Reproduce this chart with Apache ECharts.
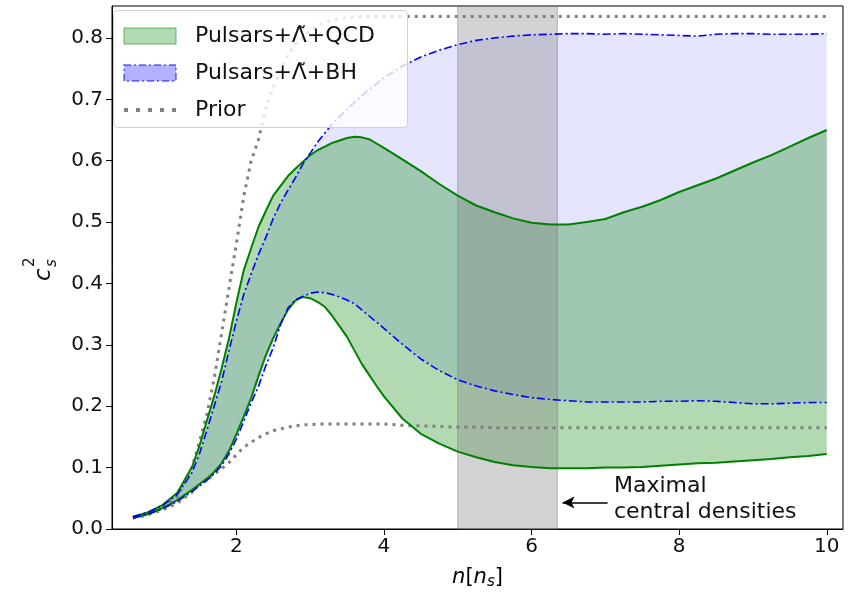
<!DOCTYPE html>
<html><head><meta charset="utf-8">
<script src="https://cdn.jsdelivr.net/npm/echarts@6/dist/echarts.min.js"></script>
<style>html,body{margin:0;padding:0;background:#fff}#c{width:849px;height:601px}</style>
</head><body><div id="c"></div>
<script>
// density grid n [n_s]
const nGrid = [0.6,0.8,1.0,1.2,1.4,1.5,1.6,1.7,1.8,1.9,2.0,2.1,2.2,2.3,2.4,2.5,2.6,2.7,2.8,2.9,3.0,3.1,3.2,3.3,3.4,3.5,3.6,3.7,3.8,3.9,4.0,4.25,4.5,4.75,5.0,5.25,5.5,5.75,6.0,6.25,6.5,6.75,7.0,7.25,7.5,7.75,8.0,8.25,8.5,8.75,9.0,9.25,9.5,9.75,10.0];
// Pulsars+Λ̃+QCD band
const qcdUpper = [0.020,0.027,0.039,0.059,0.101,0.135,0.176,0.216,0.261,0.310,0.368,0.421,0.457,0.492,0.518,0.543,0.559,0.575,0.587,0.598,0.609,0.617,0.623,0.629,0.633,0.637,0.639,0.638,0.635,0.628,0.621,0.602,0.583,0.562,0.543,0.527,0.516,0.506,0.499,0.496,0.496,0.500,0.505,0.516,0.525,0.536,0.549,0.560,0.571,0.584,0.597,0.609,0.623,0.637,0.650];
const qcdLower = [0.018,0.024,0.034,0.047,0.064,0.073,0.082,0.093,0.107,0.127,0.154,0.183,0.213,0.249,0.283,0.311,0.335,0.357,0.372,0.378,0.376,0.370,0.362,0.347,0.330,0.313,0.291,0.269,0.251,0.233,0.216,0.180,0.155,0.139,0.126,0.117,0.109,0.104,0.101,0.099,0.099,0.099,0.100,0.100,0.101,0.103,0.105,0.107,0.108,0.110,0.112,0.114,0.117,0.119,0.122];
// Pulsars+Λ̃+BH band
const bhUpper = [0.020,0.027,0.038,0.056,0.092,0.122,0.160,0.200,0.240,0.290,0.338,0.382,0.415,0.447,0.475,0.506,0.531,0.552,0.572,0.594,0.612,0.630,0.645,0.660,0.672,0.684,0.695,0.706,0.716,0.725,0.735,0.754,0.769,0.780,0.789,0.796,0.800,0.803,0.805,0.806,0.807,0.807,0.806,0.807,0.806,0.805,0.804,0.803,0.806,0.807,0.807,0.806,0.806,0.806,0.807];
const bhLower = [0.018,0.024,0.033,0.045,0.061,0.070,0.079,0.090,0.103,0.122,0.146,0.175,0.205,0.232,0.266,0.295,0.333,0.360,0.373,0.379,0.384,0.386,0.385,0.382,0.378,0.373,0.367,0.357,0.347,0.337,0.327,0.301,0.277,0.258,0.243,0.233,0.225,0.219,0.214,0.211,0.209,0.207,0.207,0.207,0.207,0.208,0.208,0.209,0.208,0.206,0.204,0.204,0.205,0.206,0.206];
// Prior envelope
const priorUpper = [0.018,0.024,0.035,0.053,0.100,0.142,0.186,0.245,0.318,0.392,0.464,0.541,0.599,0.634,0.685,0.720,0.748,0.772,0.790,0.800,0.812,0.820,0.825,0.829,0.831,0.833,0.834,0.835,0.835,0.835,0.835,0.835,0.835,0.835,0.835,0.835,0.835,0.835,0.835,0.835,0.835,0.835,0.835,0.835,0.835,0.835,0.835,0.835,0.835,0.835,0.835,0.835,0.835,0.835,0.835];
const priorLower = [0.018,0.023,0.031,0.042,0.060,0.073,0.080,0.089,0.098,0.108,0.121,0.133,0.141,0.149,0.155,0.160,0.163,0.166,0.168,0.170,0.170,0.171,0.171,0.171,0.171,0.171,0.171,0.171,0.171,0.171,0.171,0.169,0.168,0.167,0.166,0.166,0.165,0.165,0.165,0.165,0.165,0.165,0.165,0.165,0.165,0.165,0.165,0.165,0.165,0.165,0.165,0.165,0.165,0.165,0.165];
// maximal central densities span
const densitySpan = [5.0, 6.35];
const xTicks = [2,4,6,8,10];
const yTicks = [0.0,0.1,0.2,0.3,0.4,0.5,0.6,0.7,0.8];
const legendNames = ['Pulsars+Λ\u0303+QCD','Pulsars+Λ\u0303+BH','Prior'];

const FONT = 'DejaVu Sans';
const pairs = ys => nGrid.map((x,i)=>[x, ys[i]]);
const X_MIN = 0.316, X_MAX = 10.22, Y_MIN = 0, Y_MAX = 0.852;

function bandRender(upper, lower, fill){
  return function(params, api){
    const pts = [];
    for (let i=0;i<nGrid.length;i++) pts.push(api.coord([nGrid[i], upper[i]]));
    for (let i=nGrid.length-1;i>=0;i--) pts.push(api.coord([nGrid[i], lower[i]]));
    return {type:'polygon', shape:{points:pts}, style:{fill:fill, stroke:null}};
  };
}

const chart = echarts.init(document.getElementById('c'), null, {renderer:'canvas'});
const lineBase = {type:'line', showSymbol:false, symbol:'none', silent:true, animation:false, smooth:false};

chart.setOption({
  animation:false,
  backgroundColor:'#fff',
  textStyle:{fontFamily:FONT},
  grid:{left:112, right:6, top:6, bottom:72, show:true, borderColor:'#000', borderWidth:1, backgroundColor:'transparent', containLabel:false, outerBoundsMode:'none'},
  xAxis:{type:'value', min:X_MIN, max:X_MAX,
    name:'{i|n}[{i|n}{sub|s}]', nameLocation:'middle', nameGap:36,
    nameTextStyle:{fontFamily:FONT, fontSize:21, color:'#000', rich:{i:{fontStyle:'italic', fontSize:21, fontFamily:FONT}, sub:{fontStyle:'italic', fontSize:15, fontFamily:FONT, padding:[10,0,0,0]}}},
    axisLine:{show:true, onZero:false, lineStyle:{color:'#000', width:1}},
    axisTick:{show:true, customValues:xTicks, length:6, lineStyle:{color:'#000', width:1}},
    axisLabel:{customValues:xTicks, fontSize:20, color:'#111', margin:8, fontFamily:FONT},
    splitLine:{show:false}},
  yAxis:{type:'value', min:Y_MIN, max:Y_MAX,
    axisLine:{show:true, onZero:false, lineStyle:{color:'#000', width:1}},
    axisTick:{show:true, customValues:yTicks, length:6, lineStyle:{color:'#000', width:1}},
    axisLabel:{customValues:yTicks, fontSize:20, color:'#111', margin:9, fontFamily:FONT, formatter:v=>v.toFixed(1)},
    splitLine:{show:false}},
  legend:{
    z:20, orient:'vertical', left:123, top:25, itemWidth:52, itemHeight:16, itemGap:15,
    selectedMode:false, backgroundColor:'transparent', padding:0, symbolKeepAspect:true,
    textStyle:{fontFamily:FONT, fontSize:22, color:'#111', lineHeight:16, padding:[0,0,0,14]},
    data:[
      {name:legendNames[0], icon:'rect', itemStyle:{color:'rgba(0,128,0,0.3)', borderColor:'rgba(0,128,0,0.35)', borderWidth:1.5}},
      {name:legendNames[1], icon:'rect', itemStyle:{color:'rgba(0,0,255,0.3)', borderColor:'rgba(0,0,255,0.45)', borderWidth:2, borderType:[7,3,2,3]}},
      {name:legendNames[2], icon:'path://M0,0h4v4h-4zM12,0h4v4h-4zM24,0h4v4h-4zM36,0h4v4h-4zM48,0h4v4h-4z',
        itemStyle:{color:'#808080', borderWidth:0}, lineStyle:{opacity:0}}
    ]
  },
  graphic:[
    {type:'rect', z:10, shape:{x:113.5, y:10.5, width:294, height:117, r:4}, style:{fill:'rgba(255,255,255,0.8)', stroke:'#d0d0d0', lineWidth:1}, silent:true},
    {type:'group', x:51, y:281, rotation:Math.PI/2, silent:true, children:[
      {type:'text', x:0, y:-7, style:{text:'c', font:'italic 23px "DejaVu Sans"', fill:'#111', align:'left', verticalAlign:'middle'}},
      {type:'text', x:14, y:-21, style:{text:'2', font:'15px "DejaVu Sans"', fill:'#111', align:'left', verticalAlign:'middle'}},
      {type:'text', x:14, y:1, style:{text:'s', font:'italic 15px "DejaVu Sans"', fill:'#111', align:'left', verticalAlign:'middle'}}
    ]}
  ],
  series:[
    {type:'custom', name:legendNames[1], z:1, silent:true, data:[[nGrid[0], bhLower[0]]], encode:{x:0,y:1},
      itemStyle:{color:'rgba(0,0,255,0.1)'},
      renderItem:bandRender(bhUpper, bhLower, 'rgba(0,0,255,0.1)')},
    {type:'custom', name:legendNames[0], z:1, silent:true, data:[[nGrid[0], qcdLower[0]]], encode:{x:0,y:1},
      itemStyle:{color:'rgba(0,128,0,0.3)'},
      renderItem:bandRender(qcdUpper, qcdLower, 'rgba(0,128,0,0.3)')},
    {type:'custom', name:'span', z:1, silent:true, data:[[densitySpan[0], Y_MIN]], encode:{x:0,y:1},
      renderItem:function(params, api){
        const p0 = api.coord([densitySpan[0], Y_MAX]);
        const p1 = api.coord([densitySpan[1], Y_MIN]);
        return {type:'rect', shape:{x:p0[0], y:p0[1], width:p1[0]-p0[0], height:p1[1]-p0[1]},
          style:{fill:'rgba(128,128,128,0.35)', stroke:'rgba(110,110,110,0.45)', lineWidth:1}};
      }},
    Object.assign({}, lineBase, {name:legendNames[2], z:3, data:pairs(priorUpper), lineStyle:{color:'#808080', width:3, type:[3,5], cap:'butt'}, itemStyle:{color:'#808080'}}),
    Object.assign({}, lineBase, {name:legendNames[2], z:3, data:pairs(priorLower), lineStyle:{color:'#808080', width:3, type:[3,5], cap:'butt'}, itemStyle:{color:'#808080'}}),
    Object.assign({}, lineBase, {name:'qcdUpperLine', z:4, data:pairs(qcdUpper), lineStyle:{color:'#008000', width:2}}),
    Object.assign({}, lineBase, {name:'qcdLowerLine', z:4, data:pairs(qcdLower), lineStyle:{color:'#008000', width:2},
      markLine:{silent:true, animation:false, symbol:['none','arrow'], symbolSize:[9,12],
        lineStyle:{color:'#000', width:1.6, type:'solid'}, label:{show:false},
        data:[[{coord:[7.03,0.043]},{coord:[6.42,0.043]}]]},
      markPoint:{silent:true, animation:false,
        data:[{coord:[7.11,0.048], symbol:'circle', symbolSize:1, itemStyle:{color:'rgba(0,0,0,0)'},
          label:{show:true, position:'right', distance:0, formatter:'Maximal\ncentral densities', fontFamily:FONT, fontSize:22, lineHeight:26, color:'#111', align:'left'}}]}}),
    Object.assign({}, lineBase, {name:'bhUpperLine', z:5, data:pairs(bhUpper), lineStyle:{color:'#0000ff', width:1.6, type:[8,3,2,3]}}),
    Object.assign({}, lineBase, {name:'bhLowerLine', z:5, data:pairs(bhLower), lineStyle:{color:'#0000ff', width:1.6, type:[8,3,2,3]}})
  ]
});
</script></body></html>
